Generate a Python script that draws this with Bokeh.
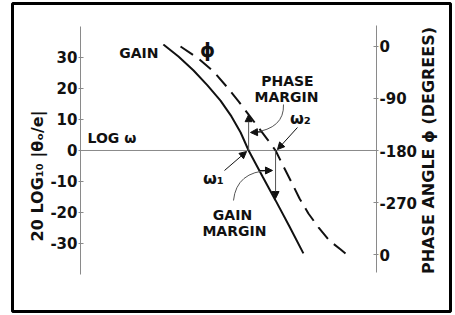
from bokeh.plotting import figure
from bokeh.models import Range1d, LinearAxis, FixedTicker, Arrow, NormalHead
from bokeh.core.properties import value
from bokeh.embed import file_html
from bokeh.resources import INLINE
import math

# ---- data ----
gain_logw = [2.80, 3.31, 3.82, 4.29, 4.73, 5.10, 5.41, 5.68, 6.15, 6.59, 7.06, 7.53]
gain_db = [34.2, 30.3, 25.8, 21.0, 16.1, 11.0, 5.8, 0.0, -8.4, -16.1, -24.5, -33.2]
phase_logw = [3.38, 3.99, 4.49, 4.93, 5.34, 5.68, 6.01, 6.32, 6.59, 6.86, 7.13, 7.40,
              7.70, 8.04, 8.41, 8.78, 8.99]
phase_deg = [0, -21, -43, -69, -95, -118, -140, -161, -180, -208, -235, -263,
             -289, -313, -336, -351, -360]
db_ticks = [-30, -20, -10, 0, 10, 20, 30]
db_tick_labels = ["-30", "-20", "-10", "0", "10", "20", "30"]
phase_ticks = [0, -90, -180, -270, -360]
phase_tick_labels = ["0", "-90", "-180", "-270", "0"]
w1 = 5.68          # gain crossover (log w)
w2 = 6.59          # phase crossover (log w)
phase_at_w1 = -118
gain_at_w2 = -15.5
axis_span = [0, 10]

FONT = value("DejaVu Sans")
INK = "#111111"
AX = "#8a8a8a"

p = figure(width=454, height=314,
           x_range=Range1d(-2.297, 12.5), y_range=Range1d(-51.94, 47.42),
           output_backend="svg", toolbar_location=None,
           x_axis_location=None, y_axis_location=None,
           min_border_left=12, min_border_right=4, min_border_top=3, min_border_bottom=3)
p.extra_y_ranges = {"phase": Range1d(-458.65, 74.42)}
p.grid.grid_line_color = None
p.outline_line_color = "black"
p.outline_line_width = 3
p.background_fill_color = "white"
p.border_fill_color = "white"

def style_axis(ax):
    ax.axis_line_color = AX
    ax.axis_line_width = 1
    ax.major_tick_line_color = AX
    ax.major_tick_in = 3
    ax.major_tick_out = 2
    ax.minor_tick_line_color = None
    ax.major_label_text_font = "DejaVu Sans"
    ax.major_label_text_font_style = "bold"
    ax.major_label_text_font_size = "15px"
    ax.major_label_text_color = INK
    ax.major_label_standoff = 1

left = LinearAxis(fixed_location=axis_span[0], ticker=FixedTicker(ticks=db_ticks), bounds=(-40, 40),
                  major_label_overrides={t: l for t, l in zip(db_ticks, db_tick_labels)})
style_axis(left)
p.add_layout(left, "left")

right = LinearAxis(fixed_location=axis_span[1], y_range_name="phase",
                   ticker=FixedTicker(ticks=phase_ticks), bounds=(-391, 36),
                   major_label_overrides={t: l for t, l in zip(phase_ticks, phase_tick_labels)})
style_axis(right)
p.add_layout(right, "right")

# zero / -180 line
p.segment(x0=[axis_span[0]], y0=[0], x1=[axis_span[1]], y1=[0], line_color=AX, line_width=1)

# curves
p.line(gain_logw, gain_db, line_color=INK, line_width=2)
p.line(phase_logw, phase_deg, y_range_name="phase", line_color=INK, line_width=2,
       line_dash="15 8")

def arrow(x0, y0, x1, y1, rn="default", color=INK):
    p.add_layout(Arrow(end=NormalHead(size=7, fill_color=INK, line_color=INK),
                       x_start=x0, y_start=y0, x_end=x1, y_end=y1,
                       line_color=color, line_width=1, y_range_name=rn))

# phase margin vertical arrow
arrow(w1, -180, w1, phase_at_w1, rn="phase", color="#555555")
# gain margin vertical arrow
arrow(w2, 0, w2, gain_at_w2, color="#555555")
# omega leaders
arrow(4.865, -6.45, 5.61, -0.32)
arrow(7.33, 7.42, 6.655, 0.32)
# curved leaders
p.quadratic(x0=[6.858], y0=[14.84], x1=[5.845], y1=[5.81], cx=[6.89], cy=[7.10],
            line_color="#555555", line_width=1)
arrow(6.115, 5.97, 5.743, 5.81)
p.quadratic(x0=[5.169], y0=[-16.13], x1=[6.385], y1=[-6.45], cx=[5.27], cy=[-6.77],
            line_color="#555555", line_width=1)
arrow(6.047, -6.45, 6.486, -6.45)

def txt(x, y, s, size="14px", align="center", angle=0.0):
    p.text(x=[x], y=[y], text=[s], text_font=FONT, text_font_style="bold",
           text_font_size=size, text_align=align, text_baseline="middle",
           text_color=INK, angle=angle)

txt(2.635, 31.6, "GAIN", align="right")
txt(4.29, 32.26, "ϕ", size="19px")
txt(0.236, 4.19, "LOG ω", align="left")
txt(6.99, 22.58, "PHASE")
txt(6.96, 17.1, "MARGIN")
txt(7.43, 10.32, "ω₂", size="16px")
txt(4.49, -9.03, "ω₁", size="16px")
txt(5.135, -20.97, "GAIN")
txt(5.20, -26.13, "MARGIN")
txt(-1.453, -8.2, "20 LOG₁₀ |θₒ/e|", size="16px", angle=math.pi / 2)
txt(11.757, 0.0, "PHASE ANGLE ϕ (DEGREES)", size="16px", angle=math.pi / 2)

open("out.html", "w").write(file_html(p, INLINE))
